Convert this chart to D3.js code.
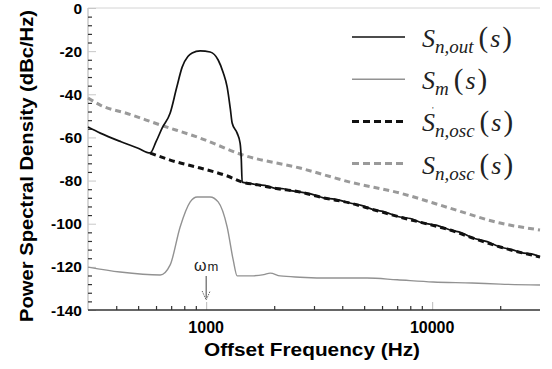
<!DOCTYPE html>
<html>
<head>
<meta charset="utf-8">
<script src="https://cdn.jsdelivr.net/npm/d3@7"></script>
<style>
  body { margin: 0; background: #fff; }
  svg { display: block; }
</style>
</head>
<body>
<svg id="chart" width="552" height="369"></svg>
<script>
// data: [frequency Hz, dBc/Hz]
var snOut = [
  [300, -55.2], [340, -58], [420, -62], [500, -65], [565, -67.2],
  [600, -62], [639, -55.6], [693, -48.7], [740, -37], [783, -27.4], [830, -22.5],
  [867, -20.9], [941, -19.9], [1041, -20.4], [1130, -24.1], [1190, -30],
  [1238, -36.6], [1280, -47], [1303, -53.3], [1371, -58], [1413, -62.6],
  [1430, -70], [1443, -80.7], [1550, -81.3], [1700, -82], [1850, -82.4],
  [2000, -83.5], [2200, -83.8], [2400, -84.8], [2600, -85.3], [2900, -86.2],
  [3300, -88], [3700, -88.6], [4330, -90.4], [4900, -91.6], [5500, -93.5],
  [6200, -94.6], [7200, -96.9], [8000, -97.6], [9000, -99.5], [10500, -100.8],
  [12000, -102.9], [13500, -104.2], [15000, -106.5], [17500, -108.3],
  [20000, -110.8], [22500, -112], [25000, -113.5], [27500, -114], [30000, -115.4]
];
var sm = [
  [300, -120.1], [416, -122.4], [626, -123.8], [693, -119.1], [767, -101.5],
  [850, -89.9], [912, -87.6], [1041, -87.6], [1130, -89.9], [1238, -101.5],
  [1317, -116.8], [1371, -124.2], [1565, -124.2], [1800, -123.6], [1920, -122.9],
  [2125, -124.2], [2600, -124.8], [3650, -125.2], [5150, -125.2], [7000, -126],
  [10100, -127], [15000, -127.5], [20000, -128], [30000, -128.4]
];
var snOscPrime = [
  [565, -67.2], [693, -70.5], [941, -74.2], [1250, -78], [1443, -80.7],
  [1700, -82], [2000, -83.5], [2600, -85.3], [3300, -88], [4330, -90.4],
  [5500, -93.5], [7200, -96.9], [9000, -99.5], [12000, -102.9], [15000, -106.5],
  [20000, -110.8], [25000, -113.5], [30000, -115.4]
];
var snOsc = [
  [300, -41.7], [340, -45], [450, -49], [626, -54.2], [940, -60.3],
  [1460, -68.2], [2600, -74.2], [4330, -80.7], [7200, -85.8], [12000, -92.8],
  [20000, -99.7], [30000, -102.9]
];

var xMajor = [1000, 10000];
var xMinor = [400, 500, 600, 700, 800, 900, 2000, 3000, 4000, 5000, 6000, 7000, 8000, 9000, 20000];
var yMajor = [0, -20, -40, -60, -80, -100, -120, -140];
var yMinor = [-4, -8, -12, -16, -24, -28, -32, -36, -44, -48, -52, -56, -64, -68, -72, -76,
  -84, -88, -92, -96, -104, -108, -112, -116, -124, -128, -132, -136];

var SANS = "'Liberation Sans', Arial, sans-serif";
var SERIF = "'Liberation Serif', 'Times New Roman', 'DejaVu Serif', serif";

var svg = d3.select("#chart");

var x = d3.scaleLog().domain([300, 30000]).range([88, 540]);
var y = d3.scaleLinear().domain([-140, 0]).range([310, 8]);

// frame
svg.append("line").attr("x1", 88).attr("x2", 540).attr("y1", 8).attr("y2", 8)
  .attr("stroke", "#d4d4d4").attr("stroke-width", 1);
svg.append("line").attr("x1", 88).attr("x2", 88).attr("y1", 8).attr("y2", 310)
  .attr("stroke", "#bdbdbd").attr("stroke-width", 1.2);

// y axis ticks
var yMinorAxis = svg.append("g").attr("transform", "translate(88,0)")
  .call(d3.axisRight(y).tickValues(yMinor).tickSize(4).tickFormat(""));
yMinorAxis.select(".domain").remove();
yMinorAxis.selectAll("line").attr("stroke", "#333").attr("stroke-width", 1.2);

var yMajorAxis = svg.append("g").attr("transform", "translate(88,0)")
  .call(d3.axisRight(y).tickValues(yMajor).tickSize(8).tickFormat(""));
yMajorAxis.select(".domain").remove();
yMajorAxis.selectAll("line").attr("stroke", "#c8c8c8");

svg.selectAll(".ylab").data(yMajor).enter().append("text")
  .attr("class", "ylab")
  .attr("x", 82)
  .attr("y", function (d) { return y(d) + 5.5; })
  .attr("text-anchor", "end")
  .style("font-family", SANS)
  .attr("font-size", 15.5)
  .attr("font-weight", "bold")
  .text(function (d) { return d; });

// x axis
var xMinorAxis = svg.append("g").attr("transform", "translate(0,310)")
  .call(d3.axisBottom(x).tickValues(xMinor).tickSize(-4).tickFormat(""));
xMinorAxis.select(".domain").remove();
xMinorAxis.selectAll("line").attr("stroke", "#333").attr("stroke-width", 1.2);

var xMajorAxis = svg.append("g").attr("transform", "translate(0,310)")
  .call(d3.axisBottom(x).tickValues(xMajor).tickSize(-8).tickFormat(""));
xMajorAxis.select(".domain").remove();
xMajorAxis.selectAll("line").attr("stroke", "#bbb");

svg.append("line").attr("x1", 88).attr("x2", 540).attr("y1", 310).attr("y2", 310)
  .attr("stroke", "#333").attr("stroke-width", 1.3);

svg.selectAll(".xlab").data(xMajor).enter().append("text")
  .attr("class", "xlab")
  .attr("x", function (d) { return x(d); })
  .attr("y", 333)
  .attr("text-anchor", "middle")
  .style("font-family", SANS)
  .attr("font-size", 16)
  .attr("font-weight", "bold")
  .text(function (d) { return d; });

// axis titles
svg.append("text")
  .attr("x", 312).attr("y", 356)
  .attr("text-anchor", "middle")
  .style("font-family", SANS)
  .attr("font-size", 18).attr("font-weight", "bold")
  .attr("textLength", 216).attr("lengthAdjust", "spacingAndGlyphs")
  .text("Offset Frequency (Hz)");

svg.append("text")
  .attr("transform", "translate(33,166) rotate(-90)")
  .attr("text-anchor", "middle")
  .style("font-family", SANS)
  .attr("font-size", 18).attr("font-weight", "bold")
  .attr("textLength", 312).attr("lengthAdjust", "spacingAndGlyphs")
  .text("Power Spectral Density (dBc/Hz)");

// curves
var line = d3.line()
  .x(function (d) { return x(d[0]); })
  .y(function (d) { return y(d[1]); })
  .curve(d3.curveMonotoneX);

svg.append("path").datum(snOsc).attr("d", line)
  .attr("fill", "none").attr("stroke", "#9a9a9a")
  .attr("stroke-width", 3).attr("stroke-dasharray", "6,4");

svg.append("path").datum(snOscPrime).attr("d", line)
  .attr("fill", "none").attr("stroke", "#111")
  .attr("stroke-width", 3).attr("stroke-dasharray", "6,4");

svg.append("path").datum(sm).attr("d", line)
  .attr("fill", "none").attr("stroke", "#929292")
  .attr("stroke-width", 1.4);

svg.append("path").datum(snOut).attr("d", line)
  .attr("fill", "none").attr("stroke", "#111")
  .attr("stroke-width", 1.7);

// omega_m marker
var om = svg.append("text").attr("x", 194).attr("y", 271)
  .style("font-family", SANS).attr("font-size", 16).attr("fill", "#222");
om.append("tspan").text("ω");
om.append("tspan").attr("font-size", 13).attr("dx", 1).text("m");
svg.append("line").attr("x1", x(1000)).attr("x2", x(1000)).attr("y1", 276).attr("y2", 298)
  .attr("stroke", "#444").attr("stroke-width", 1);
svg.append("path")
  .attr("d", "M" + (x(1000) - 4) + ",291 L" + x(1000) + ",300 L" + (x(1000) + 4) + ",291")
  .attr("fill", "none").attr("stroke", "#666").attr("stroke-width", 1)
  .attr("stroke-dasharray", "1.5,1");

// legend
var legendRows = [
  { sub: "n,out", stroke: "#111", width: 1.7, dash: null, prime: false },
  { sub: "m", stroke: "#929292", width: 1.4, dash: null, prime: false },
  { sub: "n,osc", stroke: "#111", width: 3, dash: "7,4", prime: true },
  { sub: "n,osc", stroke: "#9a9a9a", width: 3, dash: "7,4", prime: false }
];
legendRows.forEach(function (r, i) {
  var ly = 37 + i * 42.2;
  svg.append("line").attr("x1", 352).attr("x2", 405).attr("y1", ly).attr("y2", ly)
    .attr("stroke", r.stroke).attr("stroke-width", r.width)
    .attr("stroke-dasharray", r.dash);
  var t = svg.append("text")
    .attr("x", 422).attr("y", ly + 10)
    .style("font-family", SERIF)
    .attr("font-size", 26).attr("fill", "#222");
  t.append("tspan").attr("font-style", "italic").text("S");
  t.append("tspan").attr("font-style", "italic").attr("font-size", 19)
    .attr("dy", 6).attr("dx", 0).text(r.sub);
  t.append("tspan").attr("dy", -6).attr("dx", 5).attr("font-size", 29).text("(");
  t.append("tspan").attr("font-style", "italic").attr("dx", 2).text("s");
  t.append("tspan").attr("font-size", 29).attr("dx", 2).text(")");
  if (r.prime) {
    svg.append("text").attr("x", 432).attr("y", ly - 8)
      .style("font-family", SERIF)
      .attr("font-size", 9).attr("fill", "#333").text("'");
  }
});
</script>
</body>
</html>
